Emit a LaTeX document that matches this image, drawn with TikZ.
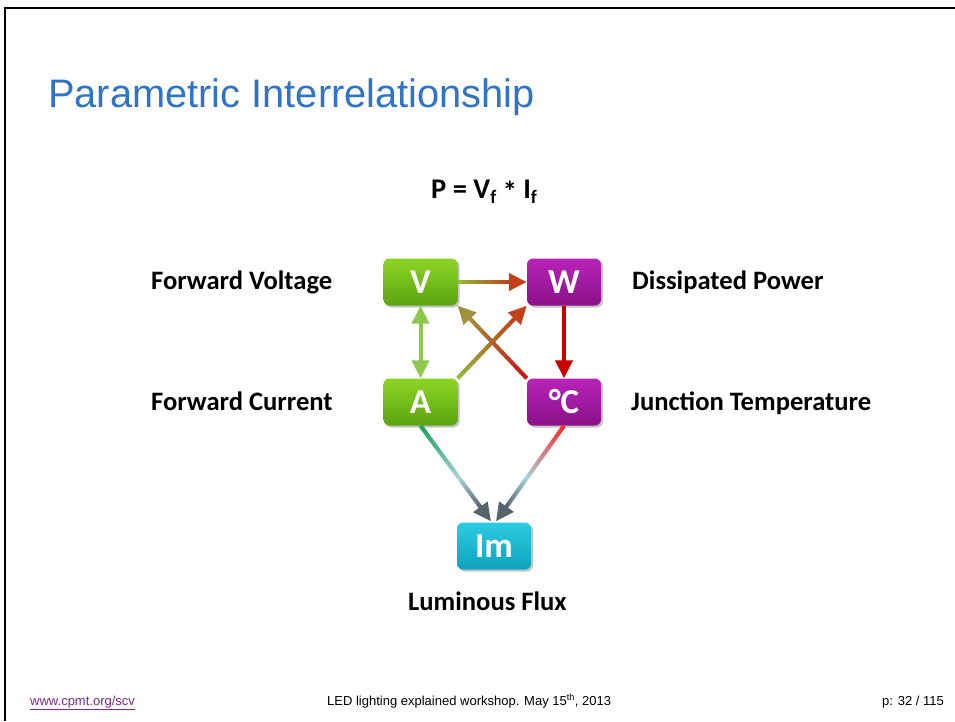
\documentclass[tikz,border=0pt]{standalone}
\usepackage{fontspec}
\setmainfont{Liberation Sans}
\newfontfamily\calib{Carlito}
\usetikzlibrary{arrows.meta,calc,shadows}
\definecolor{titleblue}{HTML}{2F74C6}
\definecolor{linkpurple}{HTML}{7B2A8C}
\definecolor{gtop}{HTML}{8BD423}
\definecolor{gbot}{HTML}{5CA312}
\definecolor{ptop}{HTML}{B823B8}
\definecolor{pbot}{HTML}{8A128A}
\definecolor{ctop}{HTML}{2CCBE2}
\definecolor{cbot}{HTML}{0EA3BE}
\definecolor{olive}{HTML}{8FBE3A}
\definecolor{orred}{HTML}{C2401A}
\definecolor{lgreen}{HTML}{8DC84A}
\definecolor{dred}{HTML}{C80000}
\definecolor{redc}{HTML}{C81414}
\definecolor{oliveb}{HTML}{A2903A}
\definecolor{emer}{HTML}{12A256}
\definecolor{brred}{HTML}{FF2424}
\definecolor{pblue}{HTML}{AAD2DE}
\definecolor{slate}{HTML}{56656C}
\tikzset{
  box/.style={rounded corners=6pt, minimum width=74pt, minimum height=47pt,
    text=white, font=\calib\bfseries\fontsize{35}{35}\selectfont, inner sep=0pt,
    drop shadow={shadow xshift=2pt, shadow yshift=-2pt, opacity=0.45}},
  gbox/.style={box, top color=gtop, bottom color=gbot},
  pbox/.style={box, top color=ptop, bottom color=pbot},
  cbox/.style={box, top color=ctop, bottom color=cbot},
  lbl/.style={font=\calib\bfseries\fontsize{26.6}{27}\selectfont, anchor=base west, inner sep=0pt},
  conn/.style={line width=4pt},
  ltip/.tip={Triangle[length=18pt,width=17pt]}
}
\newcommand\gradseg[5]{%
  \foreach \k in {1,...,#5}{%
    \pgfmathsetmacro\ga{(\k-1)/#5}%
    \pgfmathsetmacro\gb{min(1,(\k+0.4)/#5)}%
    \pgfmathtruncatemacro\gc{round(100-100*(\k-0.5)/#5)}%
    \draw[conn, draw=#3!\gc!#4] ($(#1)!\ga!(#2)$) -- ($(#1)!\gb!(#2)$);
  }%
}
\newcommand\gradarrow[4]{%
  \coordinate (gtmp) at ($(#2)!17pt!(#1)$);
  \gradseg{#1}{gtmp}{#3}{#4}{30}
  \draw[conn, draw=#4, fill=#4, -{ltip}] ($(gtmp)!1pt!(#1)$) -- (#2);
}
\newcommand\subf{\raisebox{-0.4ex}{\fontsize{19}{19}\selectfont f}}
\begin{document}
\begin{tikzpicture}[x=1pt,y=-1pt]
\useasboundingbox (0,0) rectangle (955,721);
\fill[white] (0,0) rectangle (955,721);
\draw[line width=2.5pt] (5,721) -- (5,8) -- (955,8);

\node[anchor=base west, inner sep=0pt, text=titleblue, font=\fontsize{39.8}{40}\selectfont] (title) at (48,107) {Parametric Interrelationship};

\node[anchor=base west, inner sep=0pt, font=\calib\bfseries\fontsize{28.5}{29}\selectfont] (formula) at (431,198) {P = V\subf\ \raisebox{-0.25ex}{*} I\subf};

\node[gbox] (V) at (420.5,282) {V};
\node[pbox] (W) at (564,282) {W};
\node[gbox] (A) at (420.5,402) {A};
\node[pbox] (C) at (564,402) {°C};
\node[cbox] (Im) at (494,546) {Im};

\node[lbl] (lv) at (151,289) {Forward Voltage};
\node[lbl] (lw) at (632,289) {Dissipated Power};
\node[lbl] (la) at (151,410) {Forward Current};
\node[lbl] (lc) at (631,410) {Junction Temperature};
\node[lbl] (lim) at (408,610) {Luminous Flux};

% connectors
\gradarrow{V.east}{W.west}{olive}{orred}
\draw[conn, draw=lgreen, fill=lgreen, {ltip}-{ltip}] (A.north) -- (V.south);
\gradarrow{A.north east}{W.south west}{olive}{orred}
\gradarrow{C.north west}{V.south east}{redc}{oliveb}
\draw[conn, draw=dred, fill=dred, -{ltip}] (W.south) -- (C.north);

\coordinate (ImL) at ($(Im.north)+(-3,-1)$);
\coordinate (ImR) at ($(Im.north)+(2,-1)$);
\coordinate (AMid) at ($(A.south)!0.55!(ImL)$);
\coordinate (CMid) at ($(C.south)!0.55!(ImR)$);
\gradseg{A.south}{AMid}{emer}{pblue}{20}
\gradarrow{AMid}{ImL}{pblue}{slate}
\gradseg{C.south}{CMid}{brred}{pblue}{20}
\gradarrow{CMid}{ImR}{pblue}{slate}

% footer
\node[anchor=base west, inner sep=0pt, text=linkpurple, font=\fontsize{13}{13}\selectfont] (url) at (30,705) {\underline{www.cpmt.org/scv}};
\node[anchor=base west, inner sep=0pt, font=\fontsize{13}{13}\selectfont] (foot) at (327,705) {LED lighting explained workshop. May 15\textsuperscript{th}, 2013};
\node[anchor=base east, inner sep=0pt, font=\fontsize{13}{13}\selectfont] (page) at (944,705) {p: 32 / 115};
\end{tikzpicture}
\end{document}
